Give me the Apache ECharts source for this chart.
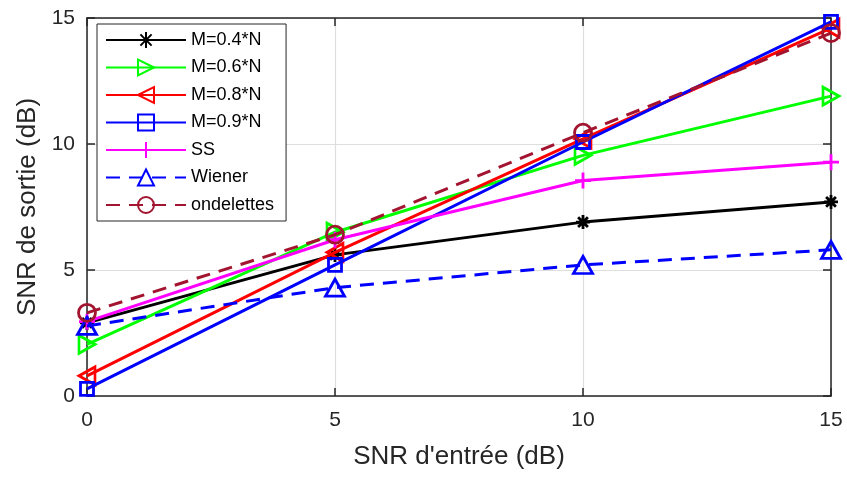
<!DOCTYPE html>
<html>
<head>
<meta charset="utf-8">
<script src="https://cdn.jsdelivr.net/npm/echarts@6/dist/echarts.min.js"></script>
<style>html,body{margin:0;padding:0;background:#fff}#c{width:847px;height:477px}</style>
</head>
<body>
<div id="c"></div>
<script>
const xValues = [0, 5, 10, 15];
const xTicks = [0, 5, 10, 15];
const yTicks = [0, 5, 10, 15];
const seriesNames = ['M=0.4*N', 'M=0.6*N', 'M=0.8*N', 'M=0.9*N', 'SS', 'Wiener', 'ondelettes'];
const m04 = [2.9, 5.6, 6.9, 7.7];
const m06 = [2.05, 6.5, 9.55, 11.9];
const m08 = [0.8, 5.7, 10.2, 14.6];
const m09 = [0.28, 5.2, 10.08, 14.85];
const ss = [2.95, 6.2, 8.55, 9.28];
const wiener = [2.78, 4.3, 5.2, 5.8];
const ondelettes = [3.3, 6.4, 10.45, 14.4];

const FONT = '"Liberation Sans", Arial, Helvetica, sans-serif';
const AX = '#262626';

function pairs(ys) { return xValues.map((x, i) => [x, ys[i]]); }

const styles = [
  {color: '#000000', symbol: 'path://M0,5L10,5M5,0L5,10M1.5,1.5L8.5,8.5M8.5,1.5L1.5,8.5', size: 14, fill: '#000000', dash: 'solid'},
  {color: '#00ff00', symbol: 'path://M10,5L0,0L0,10Z', size: [16, 18], fill: 'transparent', dash: 'solid'},
  {color: '#ff0000', symbol: 'path://M0,5L10,0L10,10Z', size: [16, 18], fill: 'transparent', dash: 'solid'},
  {color: '#0000ff', symbol: 'rect', size: 13, fill: 'transparent', dash: 'solid'},
  {color: '#ff00ff', symbol: 'path://M0,5L10,5M5,0L5,10', size: 16, fill: '#ff00ff', dash: 'solid'},
  {color: '#0000ff', symbol: 'path://M5,0L10,10L0,10Z', size: [19, 17], fill: 'transparent', dash: [14, 9]},
  {color: '#a2142f', symbol: 'circle', size: 17, fill: 'transparent', dash: [14, 9]}
];
const dataSets = [m04, m06, m08, m09, ss, wiener, ondelettes];

const series = dataSets.map((d, i) => ({
  name: seriesNames[i],
  type: 'line',
  data: pairs(d),
  symbol: styles[i].symbol,
  symbolSize: styles[i].size,
  showAllSymbol: true,
  color: styles[i].color,
  lineStyle: {color: styles[i].color, width: 3, type: styles[i].dash},
  itemStyle: {color: styles[i].fill, borderColor: styles[i].color, borderWidth: 2.8},
  emphasis: {disabled: true},
  animation: false,
  z: 2 + i
}));

const chart = echarts.init(document.getElementById('c'), null, {renderer: 'canvas'});
chart.setOption({
  backgroundColor: '#ffffff',
  animation: false,
  grid: {left: 87, right: 16, top: 18, bottom: 81, containLabel: false},
  legend: {
    orient: 'vertical',
    left: 97, top: 24,
    itemWidth: 80, itemHeight: 20, itemGap: 9.5,
    padding: [7, 12, 7, 8],
    backgroundColor: '#ffffff',
    borderColor: AX, borderWidth: 1, borderRadius: 0,
    textStyle: {fontFamily: FONT, fontSize: 18, color: '#000'},
    data: seriesNames
  },
  xAxis: [{
    type: 'value', min: xTicks[0], max: xTicks[xTicks.length - 1], interval: 5,
    name: "SNR d'entrée (dB)", nameLocation: 'middle', nameGap: 48,
    nameTextStyle: {fontFamily: FONT, fontSize: 26, color: AX},
    axisLine: {show: true, onZero: false, lineStyle: {color: AX, width: 1.5}},
    axisTick: {show: true, inside: true, length: 8, lineStyle: {color: AX, width: 1.5}},
    axisLabel: {fontFamily: FONT, fontSize: 21, color: AX, margin: 14},
    splitLine: {show: true, lineStyle: {color: '#dedede', width: 1.2}}
  }, {
    type: 'value', position: 'top', min: 0, max: 15, interval: 5,
    axisLine: {show: true, onZero: false, lineStyle: {color: AX, width: 1.5}},
    axisTick: {show: true, inside: true, length: 8, lineStyle: {color: AX, width: 1.5}},
    axisLabel: {show: false}, splitLine: {show: false}
  }],
  yAxis: [{
    type: 'value', min: yTicks[0], max: yTicks[yTicks.length - 1], interval: 5,
    name: 'SNR de sortie (dB)', nameLocation: 'middle', nameGap: 42,
    nameTextStyle: {fontFamily: FONT, fontSize: 26, color: AX},
    axisLine: {show: true, onZero: false, lineStyle: {color: AX, width: 1.5}},
    axisTick: {show: true, inside: true, length: 8, lineStyle: {color: AX, width: 1.5}},
    axisLabel: {fontFamily: FONT, fontSize: 21, color: AX, margin: 12},
    splitLine: {show: true, lineStyle: {color: '#dedede', width: 1.2}}
  }, {
    type: 'value', position: 'right', min: 0, max: 15, interval: 5,
    axisLine: {show: true, onZero: false, lineStyle: {color: AX, width: 1.5}},
    axisTick: {show: true, inside: true, length: 8, lineStyle: {color: AX, width: 1.5}},
    axisLabel: {show: false}, splitLine: {show: false}
  }],
  series: series
});
</script>
</body>
</html>
